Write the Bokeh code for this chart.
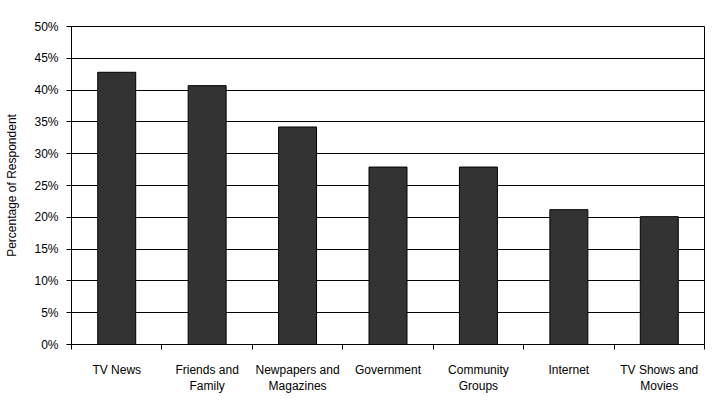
from bokeh.plotting import figure
from bokeh.models import ColumnDataSource, FixedTicker, NumeralTickFormatter, Range1d
from bokeh.embed import file_html
from bokeh.resources import INLINE

categories = ["TV News", "Friends and\nFamily", "Newpapers and\nMagazines", "Government",
              "Community\nGroups", "Internet", "TV Shows and\nMovies"]
values = [0.428, 0.407, 0.342, 0.279, 0.279, 0.212, 0.201]
y_ticks = [0, 0.05, 0.10, 0.15, 0.20, 0.25, 0.30, 0.35, 0.40, 0.45, 0.50]

n = len(categories)
centers = [i + 0.5 for i in range(n)]
bounds = [float(i) for i in range(n + 1)]

src = ColumnDataSource(dict(x=centers, top=values))

p = figure(width=712, height=402, frame_width=633, frame_height=318,
           output_backend="svg", toolbar_location=None,
           x_range=Range1d(0, n), y_range=Range1d(0, 0.5),
           min_border_left=71, min_border_right=8, min_border_top=26, min_border_bottom=58)

p.vbar(x="x", top="top", width=0.42, source=src, fill_color="#333333",
       line_color="black", line_width=1)

FONT = "Liberation Sans"

# x axis
p.xaxis.ticker = FixedTicker(ticks=centers, minor_ticks=bounds)
p.xaxis.major_label_overrides = {c: lab for c, lab in zip(centers, categories)}
p.xaxis.major_tick_line_color = None
p.xaxis.minor_tick_line_color = "black"
p.xaxis.minor_tick_out = 5
p.xaxis.minor_tick_in = 0
p.xaxis.major_label_standoff = 12
p.xaxis.major_label_text_font = FONT
p.xaxis.major_label_text_font_size = "12px"
p.xaxis.major_label_text_color = "black"
p.xaxis.axis_line_color = "black"

# y axis
p.yaxis.ticker = FixedTicker(ticks=y_ticks)
p.yaxis.formatter = NumeralTickFormatter(format="0%")
p.yaxis.minor_tick_line_color = None
p.yaxis.major_tick_out = 5
p.yaxis.major_tick_in = 0
p.yaxis.major_label_standoff = 8
p.yaxis.major_label_text_font = FONT
p.yaxis.major_label_text_font_size = "12px"
p.yaxis.major_label_text_color = "black"
p.yaxis.axis_label = "Percentage of Respondent"
p.yaxis.axis_label_text_font = FONT
p.yaxis.axis_label_text_font_size = "12px"
p.yaxis.axis_label_text_font_style = "normal"
p.yaxis.axis_label_text_color = "black"
p.yaxis.axis_label_standoff = 12

p.xgrid.grid_line_color = None
p.ygrid.grid_line_color = "black"
p.ygrid.grid_line_width = 1
p.outline_line_color = "black"
p.background_fill_color = "white"
p.border_fill_color = "white"

open("out.html", "w").write(file_html(p, INLINE))
